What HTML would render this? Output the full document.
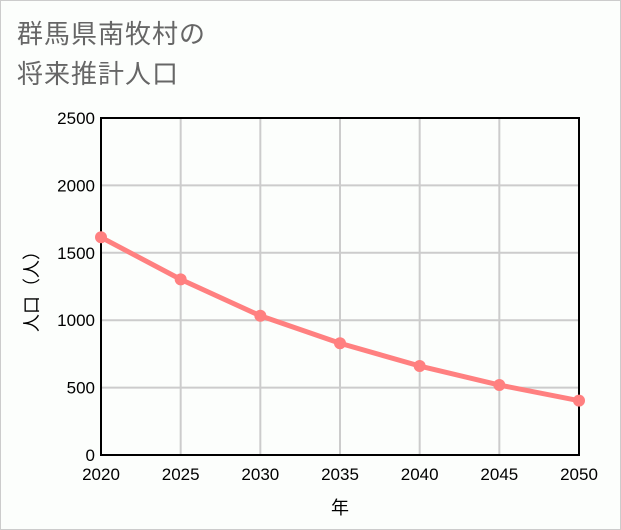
<!DOCTYPE html>
<html><head><meta charset="utf-8"><style>
body{margin:0;background:#fff}
#wrap{position:relative;width:619px;height:528px;border:1px solid #ccc;background:#fcfefc;overflow:hidden}
.t{position:absolute;left:16px;font:26px "Liberation Sans","Noto Sans CJK JP",sans-serif;color:#666;letter-spacing:1px}
</style></head><body>
<div id="wrap">
<div class="t" style="top:13px">群馬県南牧村の</div>
<div class="t" style="top:53px">将来推計人口</div>
<svg id="svg" width="621" height="530" style="position:absolute;left:-1px;top:-1px"></svg>
</div>
<script>
const years=[2020,2025,2030,2035,2040,2045,2050];
const population=[1615,1303,1033,829,660,519,403];
const yTicks=[0,500,1000,1500,2000,2500];
const L=101,R=579,T=118,B=455;
const xs=v=>L+(v-2020)/30*(R-L);
const ys=v=>B-v/2500*(B-T);
const svg=document.getElementById('svg');const NS='http://www.w3.org/2000/svg';
function mk(tag,at,txt){const e=document.createElementNS(NS,tag);for(const k in at)e.setAttribute(k,at[k]);if(txt!==undefined)e.textContent=txt;svg.appendChild(e);return e;}
const F='"Liberation Sans","Noto Sans CJK JP",sans-serif';
years.forEach(y=>{const e=mk('line',{x1:xs(y),x2:xs(y),y1:T,y2:B,stroke:'#ccc','stroke-width':2});


const t=mk('text',{x:xs(y),y:480,'text-anchor':'middle','font-size':17,'font-family':F,fill:'#000'},y);

});
yTicks.forEach(v=>{const e=mk('line',{x1:L,x2:R,y1:ys(v),y2:ys(v),stroke:'#ccc','stroke-width':2});


const t=mk('text',{x:95,y:ys(v)+6,'text-anchor':'end','font-size':17,'font-family':F,fill:'#000'},v);

});
const fr=mk('rect',{x:L,y:T,width:R-L,height:B-T,fill:'none',stroke:'#000','stroke-width':2});


const pts=years.map((y,i)=>xs(y)+','+ys(population[i])).join(' ');
const pl=mk('polyline',{points:pts,fill:'none',stroke:'#ff8080','stroke-width':5,'stroke-linejoin':'round'});


years.forEach((y,i)=>{const c=mk('circle',{cx:xs(y),cy:ys(population[i]),r:6,fill:'#ff8080'});

});
const xt=mk('text',{x:340,y:514,'text-anchor':'middle','font-size':18,'font-family':F,fill:'#000'},'年');


const yt=mk('text',{x:0,y:0,'text-anchor':'middle','font-size':18,'font-family':F,fill:'#000',transform:'translate(38,287) rotate(-90)'},'人口（人）');


</script>
</body></html>
